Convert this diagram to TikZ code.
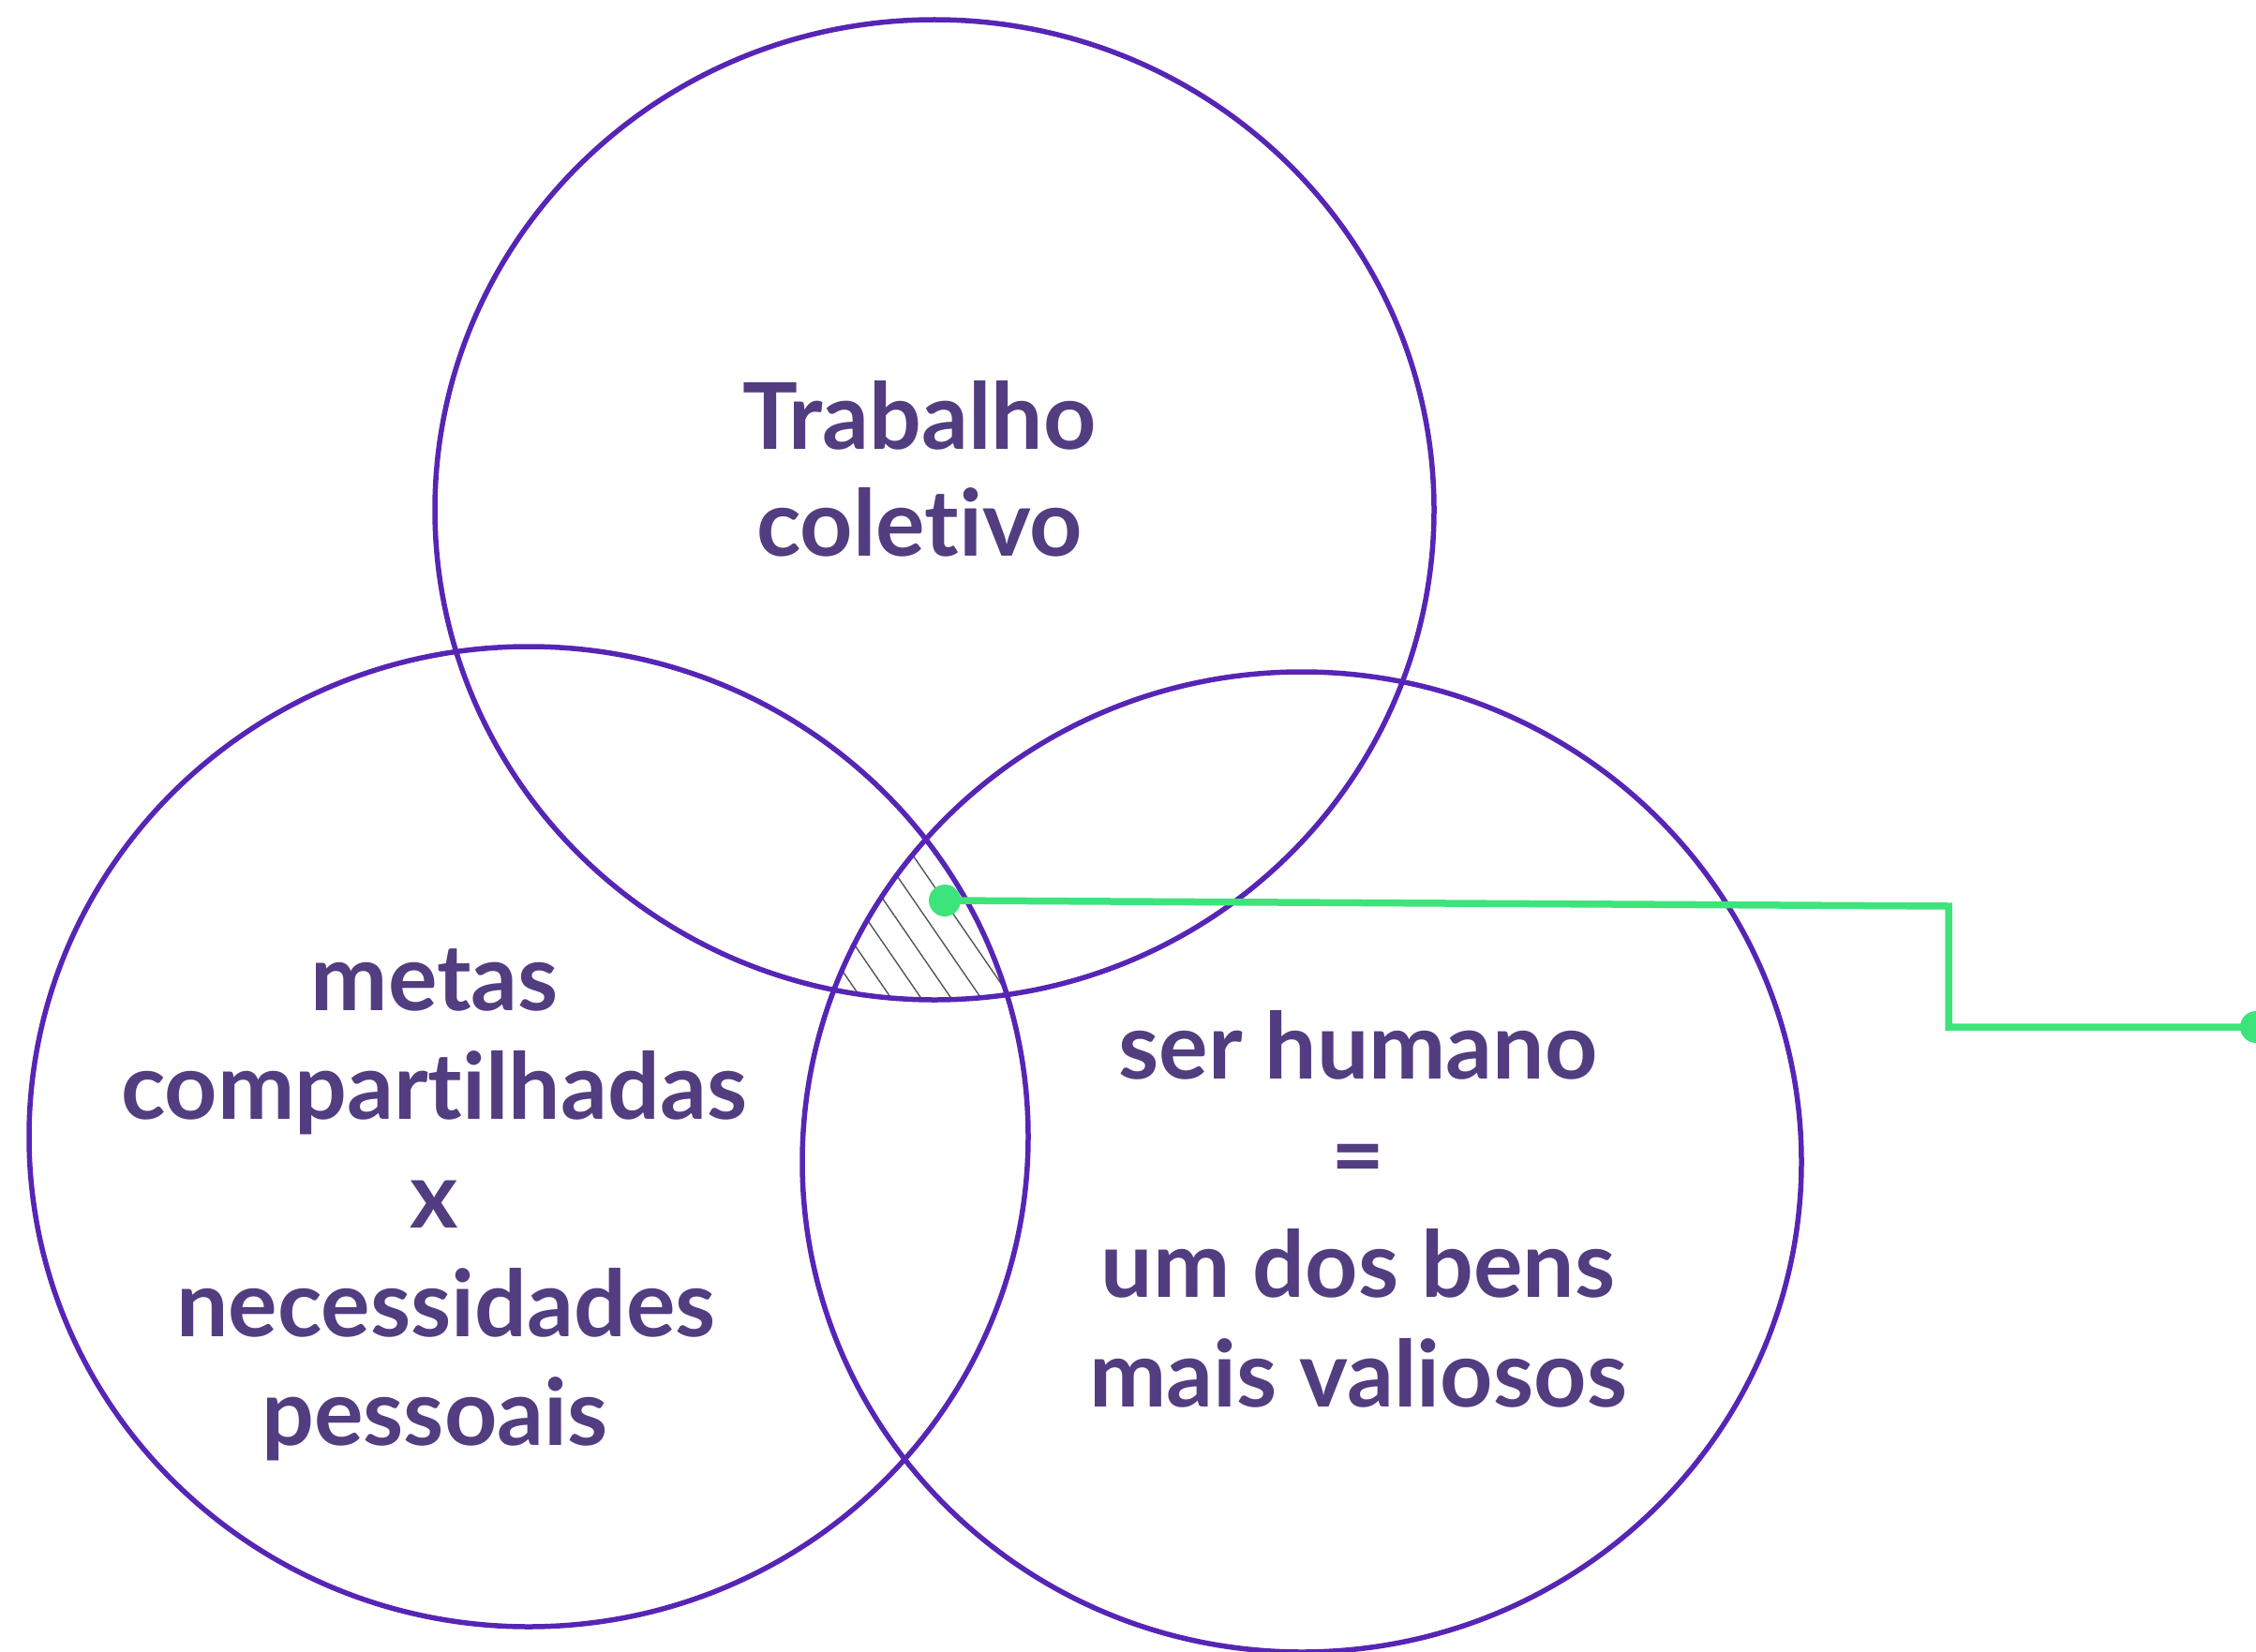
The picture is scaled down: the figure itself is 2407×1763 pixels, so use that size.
\documentclass[tikz,border=0pt]{standalone}
\usepackage{fontspec}
\setmainfont{Lato}[Ligatures={NoCommon,NoContextual}]
\definecolor{txt}{HTML}{523D80}
\definecolor{ringc}{HTML}{5725B5}
\definecolor{linkc}{HTML}{3DE47B}
\definecolor{hatchc}{HTML}{555555}
\newlength\cwid
\begin{document}
\settowidth\cwid{\bfseries\fontsize{100}{100}\selectfont compartilhadas}%
\pgfmathsetmacro\fsz{668/\cwid*100}%
\xdef\fsz{\fsz}%
\def\lblsize{\bfseries\fontsize{\fsz}{115}\selectfont}%
\begin{tikzpicture}[x=1pt,y=-1pt,
  lbl/.style={text=txt, font=\lblsize, inner sep=0pt, anchor=base},
  ring/.style={draw=ringc, line width=5.5pt},
  hatchline/.style={draw=hatchc, line width=1.4pt},
  link/.style={draw=linkc, line width=7.5pt},
  dotnode/.style={circle, fill=linkc, minimum size=34pt, inner sep=0pt}]
\useasboundingbox (0,0) rectangle (2407,1763);
\coordinate (ctop) at (997,544);
\coordinate (cleft) at (564,1213);
\coordinate (cright) at (1389,1240);
% hatching of the triple intersection
\begin{scope}
  \clip (ctop) ellipse [x radius=533pt, y radius=523pt];
  \clip (cleft) ellipse [x radius=533pt, y radius=523pt];
  \clip (cright) ellipse [x radius=533pt, y radius=523pt];
  \foreach \x in {917,949,981,1013,1045,1077}
    \draw[hatchline] (\x-206,763) -- (\x+69,1163);
\end{scope}
% circles
\draw[ring] (ctop) ellipse [x radius=533pt, y radius=523pt];
\draw[ring] (cleft) ellipse [x radius=533pt, y radius=523pt];
\draw[ring] (cright) ellipse [x radius=533pt, y radius=523pt];
% texts
\node[lbl] (t1) at (981,479) {Trabalho};
\node[lbl] (t2) at (981,593) {coletivo};
\node[lbl] (l1) at (464,1078) {metas};
\node[lbl] (l2) at (463,1194) {compartilhadas};
\node[lbl] (l3) at (463,1310) {x};
\node[lbl] (l4) at (476,1426) {necessidades};
\node[lbl] (l5) at (464,1542) {pessoais};
\node[lbl] (r1) at (1449,1151) {ser humano};
\node[lbl] (r2) at (1449,1267) {=};
\node[lbl] (r3) at (1449,1384) {um dos bens};
\node[lbl] (r4) at (1449,1501) {mais valiosos};
% connector
\coordinate (k1) at (2079,967);
\coordinate (k2) at (2079,1096);
\node[dotnode] (p1) at (1008,961) {};
\node[dotnode] (p2) at (2407,1096) {};
\draw[link] (p1.center) -- (k1) -- (k2) -- (p2.center);
\end{tikzpicture}
\end{document}
